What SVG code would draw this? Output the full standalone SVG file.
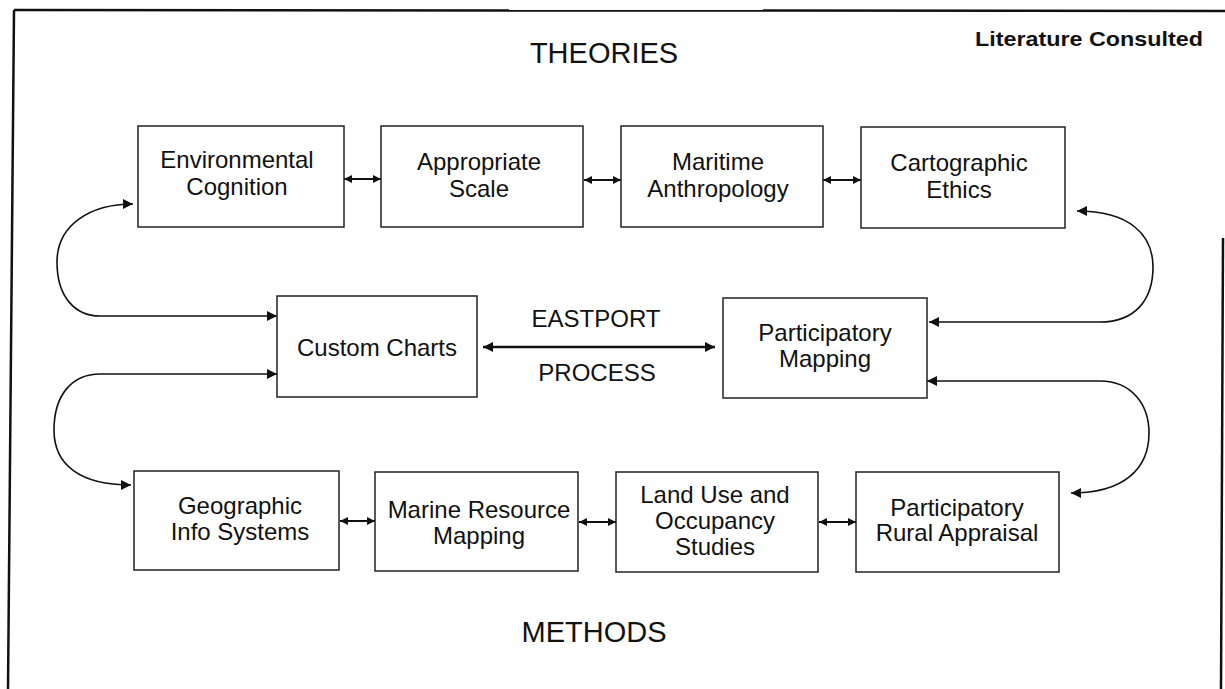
<svg xmlns="http://www.w3.org/2000/svg" width="1225" height="689" viewBox="0 0 1225 689">
  <defs>
    <style>
      .box { fill: #fff; stroke: #222; stroke-width: 1.5; }
      .lbl { font-family: "Liberation Sans", Arial, sans-serif; font-size: 24px; fill: #111; text-anchor: middle; }
      .title { font-family: "Liberation Sans", Arial, sans-serif; font-size: 29px; fill: #111; text-anchor: middle; }
      .lit { font-family: "Liberation Sans", Arial, sans-serif; font-size: 21px; font-weight: bold; fill: #111; }
      .frame { fill: none; stroke: #111; stroke-width: 2.5; }
      .short { fill: none; stroke: #111; stroke-width: 2.2; marker-start: url(#hs); marker-end: url(#hs); }
      .curve { fill: none; stroke: #111; stroke-width: 1.6; marker-start: url(#hb); marker-end: url(#hb); }
      .main { fill: none; stroke: #111; stroke-width: 2.4; marker-start: url(#hm); marker-end: url(#hm); }
    </style>
    <marker id="hs" viewBox="0 0 10 10" refX="10" refY="5" markerUnits="userSpaceOnUse" markerWidth="9" markerHeight="8" orient="auto-start-reverse">
      <path d="M0,0 L10,5 L0,10 z" fill="#111"/>
    </marker>
    <marker id="hb" viewBox="0 0 10 10" refX="10" refY="5" markerUnits="userSpaceOnUse" markerWidth="13" markerHeight="10" orient="auto-start-reverse">
      <path d="M0,0 L10,5 L0,10 z" fill="#111"/>
    </marker>
    <marker id="hm" viewBox="0 0 10 10" refX="10" refY="5" markerUnits="userSpaceOnUse" markerWidth="13" markerHeight="10" orient="auto-start-reverse">
      <path d="M0,0 L10,5 L0,10 z" fill="#111"/>
    </marker>
  </defs>

  <rect x="0" y="0" width="1225" height="689" fill="#fff"/>

  <g id="frame">
    <line class="frame" x1="14" y1="10" x2="1225" y2="11"/>
    <line class="frame" x1="14" y1="10" x2="8" y2="689"/>
    <line class="frame" x1="1223" y1="238" x2="1221" y2="689"/>
  </g>

  <g id="headings">
    <text class="title" x="604" y="63">THEORIES</text>
    <text class="title" x="594" y="642">METHODS</text>
    <text class="lit" x="975" y="46" textLength="228" lengthAdjust="spacingAndGlyphs">Literature Consulted</text>
  </g>

  <g id="connectors">
    <line class="short" x1="344" y1="179" x2="381" y2="179"/>
    <line class="short" x1="584" y1="180" x2="621" y2="180"/>
    <line class="short" x1="823" y1="180" x2="861" y2="180"/>
    <line class="short" x1="340" y1="521" x2="375" y2="521"/>
    <line class="short" x1="579" y1="522" x2="616" y2="522"/>
    <line class="short" x1="819" y1="522" x2="856" y2="522"/>
    <line class="main" x1="483" y1="347" x2="715" y2="347"/>
    <path class="curve" d="M133,204 C90,204 57,225 57,262 C57,297 75,316 100,316 L277,316"/>
    <path class="curve" d="M277,374 L100,374 C72,374 54,395 54,430 C54,465 80,485 131,485"/>
    <path class="curve" d="M1077,211 C1130,211 1153,235 1153,267 C1153,300 1135,322 1100,322 L929,322"/>
    <path class="curve" d="M927,381 L1100,381 C1132,381 1149,405 1149,433 C1149,468 1125,493 1071,493"/>
  </g>

  <g id="n_env">
    <rect class="box" x="138" y="126" width="206" height="101"/>
    <text class="lbl" x="237" y="168">Environmental</text>
    <text class="lbl" x="237" y="195">Cognition</text>
  </g>
  <g id="n_app">
    <rect class="box" x="381" y="126" width="202" height="101"/>
    <text class="lbl" x="479" y="170">Appropriate</text>
    <text class="lbl" x="479" y="197">Scale</text>
  </g>
  <g id="n_mar">
    <rect class="box" x="621" y="126" width="202" height="101"/>
    <text class="lbl" x="718" y="170">Maritime</text>
    <text class="lbl" x="718" y="197">Anthropology</text>
  </g>
  <g id="n_car">
    <rect class="box" x="861" y="127" width="204" height="101"/>
    <text class="lbl" x="959" y="171">Cartographic</text>
    <text class="lbl" x="959" y="198">Ethics</text>
  </g>

  <g id="n_cc">
    <rect class="box" x="277" y="296" width="200" height="101"/>
    <text class="lbl" x="377" y="356">Custom Charts</text>
  </g>
  <g id="process">
    <text class="lbl" x="596" y="327">EASTPORT</text>
    <text class="lbl" x="597" y="381">PROCESS</text>
  </g>
  <g id="n_pm">
    <rect class="box" x="723" y="298" width="204" height="100"/>
    <text class="lbl" x="825" y="341">Participatory</text>
    <text class="lbl" x="825" y="367">Mapping</text>
  </g>

  <g id="n_gis">
    <rect class="box" x="134" y="471" width="205" height="99"/>
    <text class="lbl" x="240" y="514">Geographic</text>
    <text class="lbl" x="240" y="540">Info Systems</text>
  </g>
  <g id="n_mrm">
    <rect class="box" x="375" y="472" width="203" height="99"/>
    <text class="lbl" x="479" y="518">Marine Resource</text>
    <text class="lbl" x="479" y="544">Mapping</text>
  </g>
  <g id="n_lu">
    <rect class="box" x="616" y="472" width="202" height="100"/>
    <text class="lbl" x="715" y="503">Land Use and</text>
    <text class="lbl" x="715" y="529">Occupancy</text>
    <text class="lbl" x="715" y="555">Studies</text>
  </g>
  <g id="n_pra">
    <rect class="box" x="856" y="472" width="203" height="100"/>
    <text class="lbl" x="957" y="516">Participatory</text>
    <text class="lbl" x="957" y="541">Rural Appraisal</text>
  </g>
</svg>
